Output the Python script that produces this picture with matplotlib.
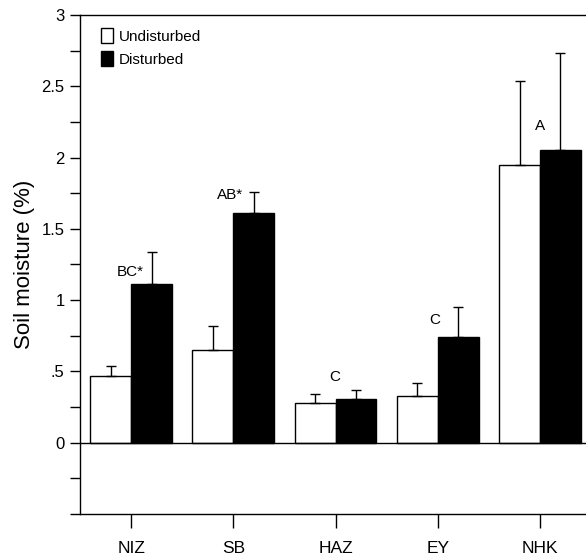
import matplotlib
matplotlib.use("Agg")
import matplotlib.pyplot as plt
from matplotlib.patches import Patch
import numpy as np

plt.rcParams['font.family'] = ['Liberation Sans', 'DejaVu Sans']

sites = ["NIZ", "SB", "HAZ", "EY", "NHK"]
undisturbed = [0.47, 0.65, 0.28, 0.33, 1.95]
undisturbed_err = [0.07, 0.17, 0.06, 0.09, 0.59]
disturbed = [1.11, 1.61, 0.31, 0.74, 2.05]
disturbed_err = [0.23, 0.145, 0.06, 0.21, 0.68]
letters = ["BC*", "AB*", "C", "C", "A"]
letter_y = [1.2, 1.74, 0.46, 0.86, 2.22]
letter_dx = [-0.01, -0.03, -0.01, -0.03, 0.0]

ytick_vals = [-0.5, -0.25, 0, 0.25, 0.5, 0.75, 1, 1.25, 1.5, 1.75, 2, 2.25, 2.5, 2.75, 3]
ytick_labels = ["", "", "0", "", ".5", "", "1", "", "1.5", "", "2", "", "2.5", "", "3"]

fig = plt.figure(figsize=(5.86, 5.59), dpi=100)
ax = fig.add_axes([0.1365, 0.0805, 0.8635, 0.8927])

x = np.arange(len(sites))
w = 0.4
ax.bar(x - w/2, undisturbed, width=w, color="white", edgecolor="black", linewidth=1.0,
       yerr=[np.zeros(len(sites)), undisturbed_err], capsize=3.5,
       error_kw=dict(ecolor="black", elinewidth=1.0, capthick=1.0), zorder=2)
ax.bar(x + w/2, disturbed, width=w, color="black", edgecolor="black", linewidth=1.0,
       yerr=[np.zeros(len(sites)), disturbed_err], capsize=3.5,
       error_kw=dict(ecolor="black", elinewidth=1.0, capthick=1.0), zorder=2)

for xi, lab, ly, dx in zip(x, letters, letter_y, letter_dx):
    ax.text(xi + dx, ly, lab, ha="center", va="center", fontsize=11)

ax.axhline(0, color="black", linewidth=1.0, zorder=3)

ax.set_xlim(-0.5, 4.45)
ax.set_ylim(-0.5, 3)
ax.set_xticks(x)
ax.set_xticklabels(sites, fontsize=12.5)
ax.set_yticks(ytick_vals)
ax.set_yticklabels(ytick_labels, fontsize=12)
ax.tick_params(axis="y", direction="out", length=7, width=1, pad=4)
ax.tick_params(axis="x", direction="out", length=10, width=1, pad=9.5)
ax.spines["right"].set_visible(False)
for s in ["left", "top", "bottom"]:
    ax.spines[s].set_linewidth(1.0)

ax.set_ylabel("Soil moisture (%)", fontsize=16, labelpad=5)

handles = [Patch(facecolor="white", edgecolor="black", label="Undisturbed"),
           Patch(facecolor="black", edgecolor="black", label="Disturbed")]
ax.legend(handles=handles, loc="upper left", frameon=False, fontsize=11,
          handlelength=0.8, handleheight=1.1, handletextpad=0.4,
          borderaxespad=0.3, labelspacing=0.5, bbox_to_anchor=(0.02, 0.995))

fig.savefig("out.png", dpi=100)
